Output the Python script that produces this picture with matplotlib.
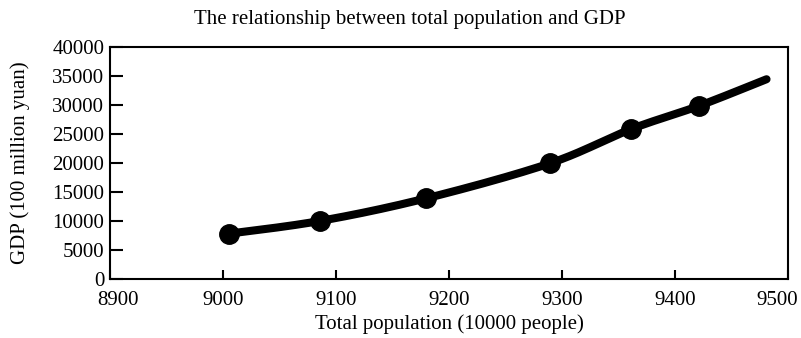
import matplotlib
matplotlib.use("Agg")
import matplotlib.pyplot as plt
import matplotlib.transforms as mtransforms
import numpy as np

# Data
population = [9005, 9086, 9180, 9289, 9361, 9421]
gdp = [7800, 10000, 13900, 19900, 25800, 29800]
# the drawn curve runs on past the last marker
line_end_population = 9481
line_end_gdp = 34400

x_ticks = [8900, 9000, 9100, 9200, 9300, 9400, 9500]
y_ticks = [0, 5000, 10000, 15000, 20000, 25000, 30000, 35000, 40000]


def smooth_curve(xs, ys, steps=30):
    """Excel-style smoothed line through the points (Catmull-Rom)."""
    px = np.array(xs, dtype=float)
    py = np.array(ys, dtype=float)
    px = np.concatenate([[px[0]], px, [px[-1]]])
    py = np.concatenate([[py[0]], py, [py[-1]]])
    out_x, out_y = [], []
    t = np.linspace(0, 1, steps)
    for i in range(1, len(px) - 2):
        for arr, out in ((px, out_x), (py, out_y)):
            p0, p1, p2, p3 = arr[i - 1], arr[i], arr[i + 1], arr[i + 2]
            seg = 0.5 * ((2 * p1) + (-p0 + p2) * t
                         + (2 * p0 - 5 * p1 + 4 * p2 - p3) * t ** 2
                         + (-p0 + 3 * p1 - 3 * p2 + p3) * t ** 3)
            out.extend(seg)
    return np.array(out_x), np.array(out_y)


plt.rcParams['font.family'] = ['Liberation Serif', 'DejaVu Serif']

fig = plt.figure(figsize=(8.01, 3.38), dpi=100)
ax = fig.add_axes([0.1373, 0.1746, 0.8465, 0.6872])

curve_x, curve_y = smooth_curve(population + [line_end_population], gdp + [line_end_gdp])
ax.plot(curve_x, curve_y, color='black', linewidth=5.8, solid_capstyle='round')
ax.plot(population, gdp, 'o', color='black', markersize=14)

ax.set_xlim(8900, 9500)
ax.set_ylim(0, 40000)
ax.set_xticks(x_ticks)
ax.set_yticks(y_ticks)
ax.tick_params(axis='both', direction='in', width=1.5, labelsize=15)
ax.tick_params(axis='x', length=6.5, pad=9)
ax.tick_params(axis='y', length=9.5, pad=4)
for s in ax.spines.values():
    s.set_linewidth(1.5)

# end labels sit a little inward in the reference
xlabels = ax.get_xticklabels()
xlabels[0].set_transform(xlabels[0].get_transform()
                         + mtransforms.ScaledTranslation(8 / 100, 0, fig.dpi_scale_trans))
xlabels[-1].set_transform(xlabels[-1].get_transform()
                          + mtransforms.ScaledTranslation(-11 / 100, 0, fig.dpi_scale_trans))

ax.set_title("The relationship between total population and GDP", fontsize=15, pad=16, x=0.4425)
ax.set_xlabel("Total population (10000 people)", fontsize=15, labelpad=3)
ax.set_ylabel("GDP (100 million yuan)", fontsize=15, labelpad=16)

fig.savefig("out.png", dpi=100)
